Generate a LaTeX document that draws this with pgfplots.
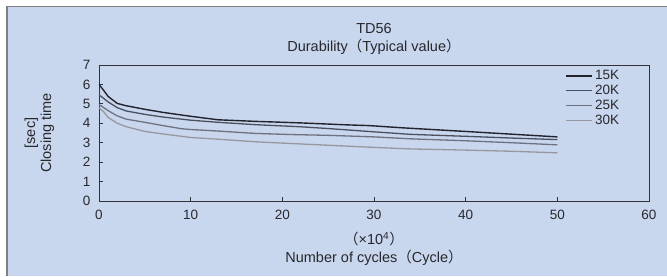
\documentclass[border=0pt]{standalone}
\usepackage{fontspec}
\setmainfont{Liberation Sans}
\newfontfamily\cjk{Noto Sans CJK JP}
\usepackage{pgfplots}
\pgfplotsset{compat=1.18}
\definecolor{bgblue}{RGB}{200,214,238}
\definecolor{framegray}{RGB}{128,128,128}
\definecolor{axgray}{RGB}{50,50,55}
\definecolor{txtgray}{RGB}{40,40,45}
\definecolor{cA}{RGB}{35,35,45}
\definecolor{cB}{RGB}{75,80,95}
\definecolor{cC}{RGB}{108,114,128}
\definecolor{cD}{RGB}{150,152,158}
\begin{document}
\begin{tikzpicture}[x=1pt,y=1pt]
\useasboundingbox (-99,-75) rectangle (568,201);
\fill[white] (-99,-75) rectangle (568,201);
\fill[bgblue] (-92,-75) rectangle (568,194.5);
\draw[framegray, line width=1.6pt] (-92,-75) -- (-92,194.5) -- (568,194.5);
\begin{axis}[
  at={(0,0)}, anchor=south west,
  scale only axis, width=550pt, height=136pt,
  xmin=0, xmax=60, ymin=0, ymax=7,
  xtick={0,10,...,60}, ytick={0,1,...,7},
  tick align=inside, tick pos=left,
  major tick length=4pt,
  axis line style={axgray, line width=0.8pt},
  every tick/.style={axgray, line width=0.8pt},
  tick label style={font=\fontsize{13.5}{15}\selectfont, text=txtgray},
  /pgf/number format/assume math mode=true,
  xticklabel style={yshift=-6pt},
  yticklabel style={xshift=-5pt},
  title={TD56\\Durability{\cjk （}Typical value{\cjk ）}},
  title style={align=center, font=\fontsize{14.5}{18}\selectfont, text=txtgray, at={(0.5,1)}, anchor=south, yshift=1pt},
  xlabel={{\cjk （}×10\textsuperscript{4}{\cjk ）}\\Number of cycles{\cjk （}Cycle{\cjk ）}},
  xlabel style={align=center, font=\fontsize{14.5}{18}\selectfont, text=txtgray, yshift=-5pt},
  ylabel={[sec]\\Closing time},
  ylabel style={align=center, font=\fontsize{14.5}{16}\selectfont, text=txtgray, yshift=22pt},
  legend style={draw=none, fill=none, at={(0.955,0.99)}, anchor=north east,
    font=\fontsize{13.5}{14}\selectfont, text=txtgray, row sep=0pt},
  legend cell align=left,
  legend image code/.code={\draw[#1] (0pt,0pt) -- (26pt,0pt);},
]
\addplot[cA, line width=1.4pt] coordinates {(0,6.0) (0.5,5.7) (1,5.38) (2,5.02) (3,4.9) (5,4.72) (7,4.56) (10,4.36) (13,4.18) (17,4.1) (22,4.02) (27,3.92) (29.5,3.88) (33,3.77) (40,3.58) (45,3.44) (50,3.3)};
\addlegendentry{15K}
\addplot[cB, line width=1.3pt] coordinates {(0,5.47) (1,5.1) (2,4.8) (3,4.63) (5,4.46) (7,4.32) (10,4.16) (13,4.05) (17,3.93) (22,3.82) (25,3.73) (30,3.56) (34,3.43) (40,3.33) (45,3.24) (50,3.16)};
\addlegendentry{20K}
\addplot[cC, line width=1.3pt] coordinates {(0,4.97) (1,4.65) (2,4.38) (3,4.21) (5,4.05) (7,3.88) (9,3.72) (10,3.68) (13,3.6) (17,3.48) (21,3.42) (25,3.38) (30,3.3) (34,3.2) (40,3.1) (45,3.0) (50,2.89)};
\addlegendentry{25K}
\addplot[cD, line width=1.3pt] coordinates {(0,4.8) (0.5,4.6) (1,4.3) (2,4.0) (3,3.82) (5,3.58) (7,3.45) (10,3.27) (13,3.18) (17,3.05) (20,2.98) (25,2.87) (30,2.76) (34,2.68) (40,2.62) (45,2.56) (50,2.48)};
\addlegendentry{30K}
\end{axis}
\end{tikzpicture}
\end{document}
